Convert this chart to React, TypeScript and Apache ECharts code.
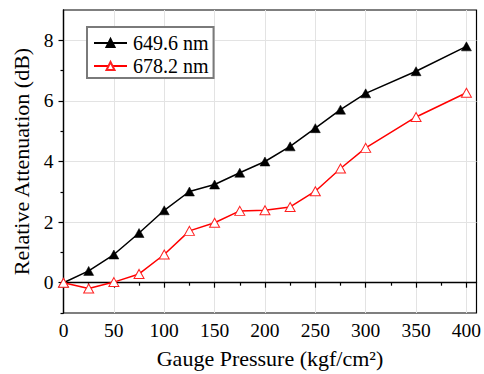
import React, { useEffect, useRef } from "react";
import * as echarts from "echarts";

const pressure = [0, 25, 50, 75, 100, 125, 150, 175, 200, 225, 250, 275, 300, 350, 400];
const att649 = [0, 0.39, 0.93, 1.64, 2.39, 3.01, 3.24, 3.63, 4.0, 4.5, 5.1, 5.71, 6.25, 6.98, 7.8];
const att678 = [0, -0.19, 0.02, 0.29, 0.93, 1.71, 1.98, 2.37, 2.39, 2.5, 3.02, 3.77, 4.45, 5.47, 6.27];
const seriesNames = ["649.6 nm", "678.2 nm"];
const xMajor = [0, 50, 100, 150, 200, 250, 300, 350, 400];
const xMinor = [25, 75, 125, 175, 225, 275, 325, 375];
const yMajor = [0, 2, 4, 6, 8];
const yMinor = [-1, 1, 3, 5, 7];

const FONT = "Liberation Serif";

export default function App() {
  const ref = useRef<HTMLDivElement>(null);
  useEffect(() => {
    if (!ref.current) return;
    const chart = echarts.init(ref.current, null, { renderer: "svg" });
    const pair = (ys: number[]) => pressure.map((x, i) => [x, ys[i]]);
    chart.setOption({
      animation: false,
      backgroundColor: "#ffffff",
      textStyle: { fontFamily: FONT },
      grid: {
        left: 63.5,
        right: 7.5,
        top: 10,
        bottom: 61,
        show: true,
        borderColor: "#000",
        borderWidth: 1.2,
        outerBoundsMode: "none",
      },
      legend: {
        show: true,
        orient: "vertical",
        left: 87,
        top: 27,
        padding: [6, 5, 2, 6],
        itemGap: 3,
        itemWidth: 33,
        itemHeight: 10,
        borderColor: "#7a7a7a",
        borderWidth: 2,
        backgroundColor: "#ffffff",
        textStyle: { fontFamily: FONT, fontSize: 20, color: "#000", padding: [0, 0, 0, 1] },
        data: seriesNames,
      },
      xAxis: [
        {
          type: "value",
          min: 0,
          max: 410,
          interval: 50,
          position: "bottom",
          name: "Gauge Pressure (kgf/cm²)",
          nameLocation: "middle",
          nameGap: 34,
          nameTextStyle: { fontFamily: FONT, fontSize: 22, color: "#000" },
          axisLine: { show: true, lineStyle: { color: "#000", width: 1.3 } },
          axisTick: { show: true, customValues: xMajor, length: 5, lineStyle: { color: "#000", width: 1.2 } },
          axisLabel: { customValues: xMajor, fontFamily: FONT, fontSize: 19.5, color: "#000", margin: 7 },
          splitLine: { show: true, lineStyle: { color: "#e3e3e3", width: 1 } },
        },
        {
          type: "value",
          min: 0,
          max: 410,
          position: "bottom",
          axisLine: { show: false },
          axisTick: { show: true, customValues: xMinor, length: 3, lineStyle: { color: "#000", width: 1.2 } },
          axisLabel: { show: false },
          splitLine: { show: false },
        },
      ],
      yAxis: [
        {
          type: "value",
          min: -1,
          max: 9,
          interval: 1,
          position: "left",
          name: "Relative Attenuation (dB)",
          nameLocation: "middle",
          nameGap: 26,
          nameTextStyle: { fontFamily: FONT, fontSize: 22, color: "#000" },
          axisLine: { show: true, lineStyle: { color: "#000", width: 1.3 } },
          axisTick: { show: true, customValues: yMajor, length: 5, lineStyle: { color: "#000", width: 1.2 } },
          axisLabel: { customValues: yMajor, fontFamily: FONT, fontSize: 19.5, color: "#000", margin: 10 },
          splitLine: { show: true, lineStyle: { color: "#e3e3e3", width: 1 } },
        },
        {
          type: "value",
          min: -1,
          max: 9,
          position: "left",
          axisLine: { show: false },
          axisTick: { show: true, customValues: yMinor, length: 3, lineStyle: { color: "#000", width: 1.2 } },
          axisLabel: { show: false },
          splitLine: { show: false },
        },
      ],
      series: [
        {
          name: seriesNames[0],
          type: "line",
          data: pair(att649),
          symbol: "triangle",
          symbolSize: [10, 9],
          lineStyle: { color: "#000", width: 1.5 },
          itemStyle: { color: "#000", borderColor: "#000", borderWidth: 0.5 },
          z: 2,
        },
        {
          name: seriesNames[1],
          type: "line",
          data: pair(att678),
          symbol: "triangle",
          symbolSize: [10, 9],
          lineStyle: { color: "#ff0000", width: 1.5 },
          itemStyle: { color: "#ffffff", borderColor: "#ff2020", borderWidth: 1 },
          z: 3,
        },
      ],
    });
    return () => chart.dispose();
  }, []);
  return (
    <div
      ref={ref}
      style={{ position: "fixed", left: 0, top: 0, width: 484, height: 374, background: "#fff" }}
    />
  );
}
